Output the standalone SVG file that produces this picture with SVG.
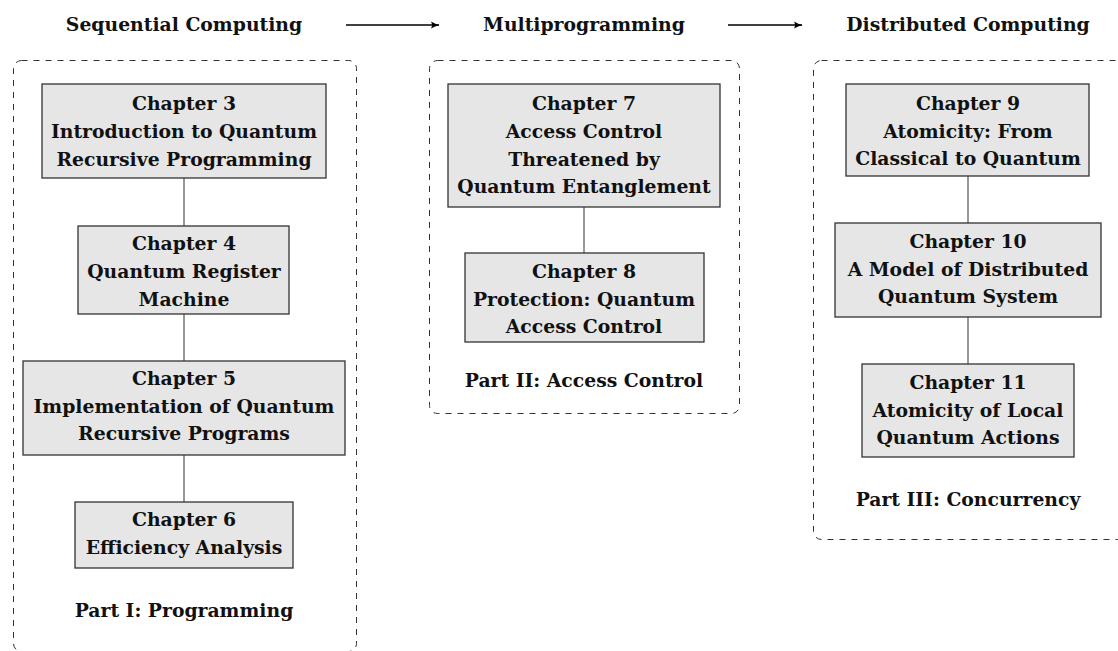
<svg xmlns="http://www.w3.org/2000/svg" width="1118" height="651" viewBox="0 0 1118 651">
  <style>
    text { font-family: "DejaVu Serif", "Liberation Serif", serif; font-weight: bold; font-size: 18.8px; fill: #111; text-anchor: middle; }
    .part { fill: none; stroke: #333; stroke-width: 1; stroke-dasharray: 6 6; }
    .chapter rect { fill: #e6e6e6; stroke: #333; stroke-width: 1.3; }
    .link { stroke: #555; stroke-width: 1.2; fill: none; }
    .flow { stroke: #000; stroke-width: 1.3; fill: none; }
  </style>
  <defs>
    <marker id="head" viewBox="0 0 10 10" refX="9" refY="5" markerWidth="10" markerHeight="10" markerUnits="userSpaceOnUse" orient="auto">
      <path d="M1,1.5 Q5,4 9.5,5 Q5,6 1,8.5 Q3,5 1,1.5 Z" fill="#000"/>
    </marker>
  </defs>

  <!-- era headings and progression arrows -->
  <g id="headings">
    <text x="184" y="31">Sequential Computing</text>
    <text x="584" y="31">Multiprogramming</text>
    <text x="968" y="31">Distributed Computing</text>
    <line class="flow" x1="346" y1="25" x2="439" y2="25" marker-end="url(#head)"/>
    <line class="flow" x1="728" y1="25" x2="802" y2="25" marker-end="url(#head)"/>
  </g>

  <!-- dashed part frames -->
  <g id="part1">
    <rect class="part" x="13.5" y="60.5" width="343" height="591" rx="8"/>
    <text x="184" y="617">Part I: Programming</text>
  </g>
  <g id="part2">
    <rect class="part" x="429.5" y="60.5" width="310" height="353" rx="8"/>
    <text x="584" y="387">Part II: Access Control</text>
  </g>
  <g id="part3">
    <rect class="part" x="813.5" y="60.5" width="312" height="479" rx="8"/>
    <text x="968" y="506">Part III: Concurrency</text>
  </g>

  <!-- connectors between chapters -->
  <g id="connectors">
    <line class="link" x1="184" y1="178" x2="184" y2="226"/>
    <line class="link" x1="184" y1="314" x2="184" y2="361"/>
    <line class="link" x1="184" y1="455" x2="184" y2="502"/>
    <line class="link" x1="584" y1="207" x2="584" y2="253"/>
    <line class="link" x1="968" y1="176" x2="968" y2="223"/>
    <line class="link" x1="968" y1="317" x2="968" y2="364"/>
  </g>

  <!-- chapter nodes -->
  <g id="ch3" class="chapter">
    <rect x="42" y="84" width="284" height="94"/>
    <text x="184" y="110">Chapter 3</text>
    <text x="184" y="138">Introduction to Quantum</text>
    <text x="184" y="166">Recursive Programming</text>
  </g>
  <g id="ch4" class="chapter">
    <rect x="78" y="226" width="211" height="88"/>
    <text x="184" y="250">Chapter 4</text>
    <text x="184" y="278">Quantum Register</text>
    <text x="184" y="306">Machine</text>
  </g>
  <g id="ch5" class="chapter">
    <rect x="23" y="361" width="322" height="94"/>
    <text x="184" y="385">Chapter 5</text>
    <text x="184" y="413">Implementation of Quantum</text>
    <text x="184" y="440">Recursive Programs</text>
  </g>
  <g id="ch6" class="chapter">
    <rect x="75" y="502" width="218" height="66"/>
    <text x="184" y="526">Chapter 6</text>
    <text x="184" y="554">Efficiency Analysis</text>
  </g>
  <g id="ch7" class="chapter">
    <rect x="448" y="84" width="272" height="123"/>
    <text x="584" y="110">Chapter 7</text>
    <text x="584" y="138">Access Control</text>
    <text x="584" y="166">Threatened by</text>
    <text x="584" y="193">Quantum Entanglement</text>
  </g>
  <g id="ch8" class="chapter">
    <rect x="465" y="253" width="239" height="89"/>
    <text x="584" y="278">Chapter 8</text>
    <text x="584" y="306">Protection: Quantum</text>
    <text x="584" y="333">Access Control</text>
  </g>
  <g id="ch9" class="chapter">
    <rect x="846" y="84" width="243" height="92"/>
    <text x="968" y="110">Chapter 9</text>
    <text x="968" y="138">Atomicity: From</text>
    <text x="968" y="165">Classical to Quantum</text>
  </g>
  <g id="ch10" class="chapter">
    <rect x="835" y="223" width="266" height="94"/>
    <text x="968" y="248">Chapter 10</text>
    <text x="968" y="276">A Model of Distributed</text>
    <text x="968" y="303">Quantum System</text>
  </g>
  <g id="ch11" class="chapter">
    <rect x="862" y="364" width="212" height="93"/>
    <text x="968" y="389">Chapter 11</text>
    <text x="968" y="417">Atomicity of Local</text>
    <text x="968" y="444">Quantum Actions</text>
  </g>
</svg>
